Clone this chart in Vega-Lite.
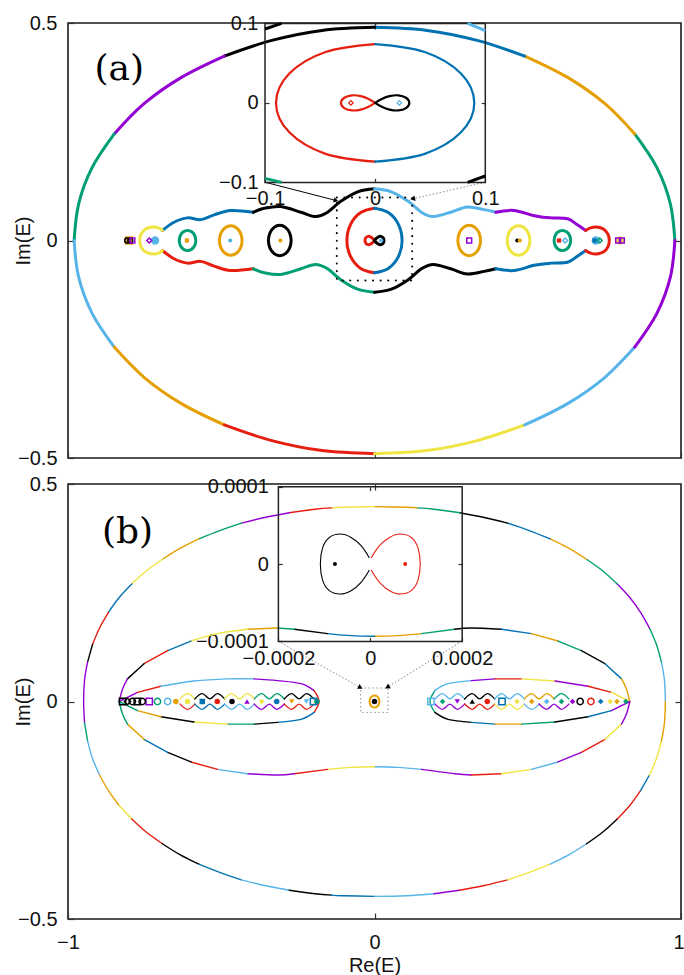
{
"$schema":"https://vega.github.io/schema/vega-lite/v6.json",
"background":"white",
"padding":{"left":12,"top":12,"right":0,"bottom":0},
"spacing":26,
"bounds":"flush",
"config":{
 "view":{"stroke":"#1a1a1a","strokeWidth":1.6},
 "axis":{"domain":false,"grid":false,"tickSize":-6,"tickColor":"#333","tickWidth":1.2,"labelFont":"Liberation Sans","labelFontSize":20,"labelColor":"#111","titleFont":"Liberation Sans","titleFontSize":20,"titleFontWeight":"normal","titleColor":"#111"},
 "axisX":{"labelPadding":19.3,"titlePadding":3},
 "axisY":{"labelPadding":17}
},
"resolve":{"scale":{"x":"independent","y":"independent"}},
"datasets":{
"aLines":[
{"s":"E1","c":"green","x":0.98,"y":0},{"s":"E1","c":"green","x":0.965,"y":0.085},{"s":"E1","c":"green","x":0.921,"y":0.168},{"s":"E1","c":"green","x":0.849,"y":0.245},
{"s":"E2","c":"orange","x":0.849,"y":0.245},{"s":"E2","c":"orange","x":0.751,"y":0.315},{"s":"E2","c":"orange","x":0.63,"y":0.375},{"s":"E2","c":"orange","x":0.49,"y":0.424},
{"s":"E3","c":"blue","x":0.49,"y":0.424},{"s":"E3","c":"blue","x":0.335,"y":0.46},{"s":"E3","c":"blue","x":0.171,"y":0.483},{"s":"E3","c":"blue","x":0,"y":0.49},
{"s":"E4","c":"black","x":0,"y":0.49},{"s":"E4","c":"black","x":-0.171,"y":0.483},{"s":"E4","c":"black","x":-0.335,"y":0.46},{"s":"E4","c":"black","x":-0.49,"y":0.424},
{"s":"E5","c":"purple","x":-0.49,"y":0.424},{"s":"E5","c":"purple","x":-0.63,"y":0.375},{"s":"E5","c":"purple","x":-0.751,"y":0.315},{"s":"E5","c":"purple","x":-0.849,"y":0.245},
{"s":"E6","c":"green","x":-0.849,"y":0.245},{"s":"E6","c":"green","x":-0.921,"y":0.168},{"s":"E6","c":"green","x":-0.965,"y":0.085},{"s":"E6","c":"green","x":-0.98,"y":0},
{"s":"E7","c":"skyblue","x":-0.98,"y":0},{"s":"E7","c":"skyblue","x":-0.965,"y":-0.085},{"s":"E7","c":"skyblue","x":-0.921,"y":-0.168},{"s":"E7","c":"skyblue","x":-0.849,"y":-0.245},
{"s":"E8","c":"orange","x":-0.849,"y":-0.245},{"s":"E8","c":"orange","x":-0.751,"y":-0.315},{"s":"E8","c":"orange","x":-0.63,"y":-0.375},{"s":"E8","c":"orange","x":-0.49,"y":-0.424},
{"s":"E9","c":"red","x":-0.49,"y":-0.424},{"s":"E9","c":"red","x":-0.335,"y":-0.46},{"s":"E9","c":"red","x":-0.171,"y":-0.483},{"s":"E9","c":"red","x":0,"y":-0.49},
{"s":"E10","c":"yellow","x":0,"y":-0.49},{"s":"E10","c":"yellow","x":0.171,"y":-0.483},{"s":"E10","c":"yellow","x":0.335,"y":-0.46},{"s":"E10","c":"yellow","x":0.49,"y":-0.424},
{"s":"E11","c":"skyblue","x":0.49,"y":-0.424},{"s":"E11","c":"skyblue","x":0.63,"y":-0.375},{"s":"E11","c":"skyblue","x":0.751,"y":-0.315},{"s":"E11","c":"skyblue","x":0.849,"y":-0.245},
{"s":"E12","c":"purple","x":0.849,"y":-0.245},{"s":"E12","c":"purple","x":0.921,"y":-0.168},{"s":"E12","c":"purple","x":0.965,"y":-0.085},{"s":"E12","c":"purple","x":0.98,"y":0},
{"s":"U1","c":"blue","x":-0.692,"y":0.023},{"s":"U1","c":"blue","x":-0.654,"y":0.042},{"s":"U1","c":"blue","x":-0.61,"y":0.052},{"s":"U1","c":"blue","x":-0.567,"y":0.048},{"s":"U1","c":"blue","x":-0.523,"y":0.059},{"s":"U1","c":"blue","x":-0.469,"y":0.069},{"s":"U1","c":"blue","x":-0.395,"y":0.065},
{"s":"U2","c":"black","x":-0.395,"y":0.065},{"s":"U2","c":"black","x":-0.36,"y":0.074},{"s":"U2","c":"black","x":-0.306,"y":0.078},{"s":"U2","c":"black","x":-0.24,"y":0.065},{"s":"U2","c":"black","x":-0.192,"y":0.055},{"s":"U2","c":"black","x":-0.153,"y":0.065},{"s":"U2","c":"black","x":-0.11,"y":0.09},{"s":"U2","c":"black","x":-0.055,"y":0.112},{"s":"U2","c":"black","x":0,"y":0.119},
{"s":"U3","c":"skyblue","x":0,"y":0.119},{"s":"U3","c":"skyblue","x":0.055,"y":0.112},{"s":"U3","c":"skyblue","x":0.11,"y":0.09},{"s":"U3","c":"skyblue","x":0.153,"y":0.065},{"s":"U3","c":"skyblue","x":0.192,"y":0.055},{"s":"U3","c":"skyblue","x":0.249,"y":0.065},{"s":"U3","c":"skyblue","x":0.303,"y":0.077},{"s":"U3","c":"skyblue","x":0.358,"y":0.071},{"s":"U3","c":"skyblue","x":0.396,"y":0.065},
{"s":"U4","c":"purple","x":0.396,"y":0.065},{"s":"U4","c":"purple","x":0.455,"y":0.069},{"s":"U4","c":"purple","x":0.521,"y":0.057},{"s":"U4","c":"purple","x":0.575,"y":0.052},{"s":"U4","c":"purple","x":0.63,"y":0.05},{"s":"U4","c":"purple","x":0.662,"y":0.036},{"s":"U4","c":"purple","x":0.689,"y":0.023},
{"s":"D1","c":"red","x":-0.692,"y":-0.023},{"s":"D1","c":"red","x":-0.654,"y":-0.042},{"s":"D1","c":"red","x":-0.61,"y":-0.052},{"s":"D1","c":"red","x":-0.567,"y":-0.048},{"s":"D1","c":"red","x":-0.523,"y":-0.059},{"s":"D1","c":"red","x":-0.469,"y":-0.069},{"s":"D1","c":"red","x":-0.395,"y":-0.065},
{"s":"D2","c":"green","x":-0.395,"y":-0.065},{"s":"D2","c":"green","x":-0.36,"y":-0.074},{"s":"D2","c":"green","x":-0.306,"y":-0.078},{"s":"D2","c":"green","x":-0.24,"y":-0.065},{"s":"D2","c":"green","x":-0.192,"y":-0.055},{"s":"D2","c":"green","x":-0.153,"y":-0.065},{"s":"D2","c":"green","x":-0.11,"y":-0.09},{"s":"D2","c":"green","x":-0.055,"y":-0.112},{"s":"D2","c":"green","x":0,"y":-0.119},
{"s":"D3","c":"black","x":0,"y":-0.119},{"s":"D3","c":"black","x":0.055,"y":-0.112},{"s":"D3","c":"black","x":0.11,"y":-0.09},{"s":"D3","c":"black","x":0.153,"y":-0.065},{"s":"D3","c":"black","x":0.192,"y":-0.055},{"s":"D3","c":"black","x":0.249,"y":-0.065},{"s":"D3","c":"black","x":0.303,"y":-0.077},{"s":"D3","c":"black","x":0.358,"y":-0.071},{"s":"D3","c":"black","x":0.396,"y":-0.065},
{"s":"D4","c":"blue","x":0.396,"y":-0.065},{"s":"D4","c":"blue","x":0.455,"y":-0.069},{"s":"D4","c":"blue","x":0.521,"y":-0.057},{"s":"D4","c":"blue","x":0.575,"y":-0.052},{"s":"D4","c":"blue","x":0.63,"y":-0.05},{"s":"D4","c":"blue","x":0.662,"y":-0.036},{"s":"D4","c":"blue","x":0.689,"y":-0.023},
{"s":"YL","c":"yellow","x":-0.692,"y":0.023},{"s":"YL","c":"yellow","x":-0.705,"y":0.029},{"s":"YL","c":"yellow","x":-0.725,"y":0.031},{"s":"YL","c":"yellow","x":-0.748,"y":0.026},{"s":"YL","c":"yellow","x":-0.762,"y":0.014},{"s":"YL","c":"yellow","x":-0.766,"y":0},{"s":"YL","c":"yellow","x":-0.762,"y":-0.014},{"s":"YL","c":"yellow","x":-0.748,"y":-0.026},{"s":"YL","c":"yellow","x":-0.725,"y":-0.031},{"s":"YL","c":"yellow","x":-0.705,"y":-0.029},{"s":"YL","c":"yellow","x":-0.692,"y":-0.023},
{"s":"RL","c":"red","x":0.689,"y":0.023},{"s":"RL","c":"red","x":0.705,"y":0.029},{"s":"RL","c":"red","x":0.725,"y":0.031},{"s":"RL","c":"red","x":0.748,"y":0.026},{"s":"RL","c":"red","x":0.762,"y":0.014},{"s":"RL","c":"red","x":0.766,"y":0},{"s":"RL","c":"red","x":0.762,"y":-0.014},{"s":"RL","c":"red","x":0.748,"y":-0.026},{"s":"RL","c":"red","x":0.725,"y":-0.031},{"s":"RL","c":"red","x":0.705,"y":-0.029},{"s":"RL","c":"red","x":0.689,"y":-0.023}
],
"aCore":[
{"s":"CL","c":"red","x":0,"y":0.074},{"s":"CL","c":"red","x":-0.045,"y":0.0641},{"s":"CL","c":"red","x":-0.0779,"y":0.037},{"s":"CL","c":"red","x":-0.09,"y":0},{"s":"CL","c":"red","x":-0.0779,"y":-0.037},{"s":"CL","c":"red","x":-0.045,"y":-0.0641},{"s":"CL","c":"red","x":0,"y":-0.074},
{"s":"CR","c":"blue","x":0,"y":-0.074},{"s":"CR","c":"blue","x":0.045,"y":-0.0641},{"s":"CR","c":"blue","x":0.0779,"y":-0.037},{"s":"CR","c":"blue","x":0.09,"y":0},{"s":"CR","c":"blue","x":0.0779,"y":0.037},{"s":"CR","c":"blue","x":0.045,"y":0.0641},{"s":"CR","c":"blue","x":0,"y":0.074},
{"s":"FL","c":"red","x":0,"y":0},{"s":"FL","c":"red","x":-0.006,"y":0.005},{"s":"FL","c":"red","x":-0.013,"y":0.0085},{"s":"FL","c":"red","x":-0.021,"y":0.0095},{"s":"FL","c":"red","x":-0.028,"y":0.0065},{"s":"FL","c":"red","x":-0.031,"y":0},{"s":"FL","c":"red","x":-0.028,"y":-0.0065},{"s":"FL","c":"red","x":-0.021,"y":-0.0095},{"s":"FL","c":"red","x":-0.013,"y":-0.0085},{"s":"FL","c":"red","x":-0.006,"y":-0.005},{"s":"FL","c":"red","x":0,"y":0},
{"s":"FR","c":"black","x":0,"y":0},{"s":"FR","c":"black","x":0.006,"y":0.005},{"s":"FR","c":"black","x":0.013,"y":0.0085},{"s":"FR","c":"black","x":0.021,"y":0.0095},{"s":"FR","c":"black","x":0.028,"y":0.0065},{"s":"FR","c":"black","x":0.031,"y":0},{"s":"FR","c":"black","x":0.028,"y":-0.0065},{"s":"FR","c":"black","x":0.021,"y":-0.0095},{"s":"FR","c":"black","x":0.013,"y":-0.0085},{"s":"FR","c":"black","x":0.006,"y":-0.005},{"s":"FR","c":"black","x":0,"y":0}
],
"aLoops":[
{"s":"L1","c":"green","x":-0.583,"y":0},{"s":"L1","c":"green","x":-0.5866,"y":0.0115},{"s":"L1","c":"green","x":-0.5965,"y":0.0199},{"s":"L1","c":"green","x":-0.61,"y":0.023},{"s":"L1","c":"green","x":-0.6235,"y":0.0199},{"s":"L1","c":"green","x":-0.6334,"y":0.0115},{"s":"L1","c":"green","x":-0.637,"y":0},{"s":"L1","c":"green","x":-0.6334,"y":-0.0115},{"s":"L1","c":"green","x":-0.6235,"y":-0.0199},{"s":"L1","c":"green","x":-0.61,"y":-0.023},{"s":"L1","c":"green","x":-0.5965,"y":-0.0199},{"s":"L1","c":"green","x":-0.5866,"y":-0.0115},
{"s":"L2","c":"orange","x":-0.432,"y":0},{"s":"L2","c":"orange","x":-0.437,"y":0.017},{"s":"L2","c":"orange","x":-0.4505,"y":0.0294},{"s":"L2","c":"orange","x":-0.469,"y":0.034},{"s":"L2","c":"orange","x":-0.4875,"y":0.0294},{"s":"L2","c":"orange","x":-0.501,"y":0.017},{"s":"L2","c":"orange","x":-0.506,"y":0},{"s":"L2","c":"orange","x":-0.501,"y":-0.017},{"s":"L2","c":"orange","x":-0.4875,"y":-0.0294},{"s":"L2","c":"orange","x":-0.469,"y":-0.034},{"s":"L2","c":"orange","x":-0.4505,"y":-0.0294},{"s":"L2","c":"orange","x":-0.437,"y":-0.017},
{"s":"L3","c":"black","x":-0.272,"y":0},{"s":"L3","c":"black","x":-0.277,"y":0.0175},{"s":"L3","c":"black","x":-0.2905,"y":0.0303},{"s":"L3","c":"black","x":-0.309,"y":0.035},{"s":"L3","c":"black","x":-0.3275,"y":0.0303},{"s":"L3","c":"black","x":-0.341,"y":0.0175},{"s":"L3","c":"black","x":-0.346,"y":0},{"s":"L3","c":"black","x":-0.341,"y":-0.0175},{"s":"L3","c":"black","x":-0.3275,"y":-0.0303},{"s":"L3","c":"black","x":-0.309,"y":-0.035},{"s":"L3","c":"black","x":-0.2905,"y":-0.0303},{"s":"L3","c":"black","x":-0.277,"y":-0.0175},
{"s":"R3","c":"orange","x":0.346,"y":0},{"s":"R3","c":"orange","x":0.341,"y":0.0175},{"s":"R3","c":"orange","x":0.3275,"y":0.0303},{"s":"R3","c":"orange","x":0.309,"y":0.035},{"s":"R3","c":"orange","x":0.2905,"y":0.0303},{"s":"R3","c":"orange","x":0.277,"y":0.0175},{"s":"R3","c":"orange","x":0.272,"y":0},{"s":"R3","c":"orange","x":0.277,"y":-0.0175},{"s":"R3","c":"orange","x":0.2905,"y":-0.0303},{"s":"R3","c":"orange","x":0.309,"y":-0.035},{"s":"R3","c":"orange","x":0.3275,"y":-0.0303},{"s":"R3","c":"orange","x":0.341,"y":-0.0175},
{"s":"R2","c":"yellow","x":0.507,"y":0},{"s":"R2","c":"yellow","x":0.502,"y":0.017},{"s":"R2","c":"yellow","x":0.4885,"y":0.0294},{"s":"R2","c":"yellow","x":0.47,"y":0.034},{"s":"R2","c":"yellow","x":0.4515,"y":0.0294},{"s":"R2","c":"yellow","x":0.438,"y":0.017},{"s":"R2","c":"yellow","x":0.433,"y":0},{"s":"R2","c":"yellow","x":0.438,"y":-0.017},{"s":"R2","c":"yellow","x":0.4515,"y":-0.0294},{"s":"R2","c":"yellow","x":0.47,"y":-0.034},{"s":"R2","c":"yellow","x":0.4885,"y":-0.0294},{"s":"R2","c":"yellow","x":0.502,"y":-0.017},
{"s":"R1","c":"green","x":0.64,"y":0},{"s":"R1","c":"green","x":0.6364,"y":0.0115},{"s":"R1","c":"green","x":0.6265,"y":0.0199},{"s":"R1","c":"green","x":0.613,"y":0.023},{"s":"R1","c":"green","x":0.5995,"y":0.0199},{"s":"R1","c":"green","x":0.5896,"y":0.0115},{"s":"R1","c":"green","x":0.586,"y":0},{"s":"R1","c":"green","x":0.5896,"y":-0.0115},{"s":"R1","c":"green","x":0.5995,"y":-0.0199},{"s":"R1","c":"green","x":0.613,"y":-0.023},{"s":"R1","c":"green","x":0.6265,"y":-0.0199},{"s":"R1","c":"green","x":0.6364,"y":-0.0115}
],
"aCorner":[
{"s":"K1","c":"black","x":-0.1,"y":0.093},{"s":"K1","c":"black","x":-0.085,"y":0.1},
{"s":"K2","c":"skyblue","x":0.084,"y":0.1},{"s":"K2","c":"skyblue","x":0.1,"y":0.091},
{"s":"K3","c":"green","x":-0.1,"y":-0.095},{"s":"K3","c":"green","x":-0.085,"y":-0.1},
{"s":"K4","c":"black","x":0.084,"y":-0.1},{"s":"K4","c":"black","x":0.1,"y":-0.092}
],
"aBig":[{"x":-0.801,"y":0,"c":"orange","m":"square"},{"x":-0.716,"y":0,"c":"skyblue","m":"circle"},{"x":0.722,"y":0,"c":"skyblue","m":"circle"},{"x":0.801,"y":0,"c":"yellow","m":"circle"}],
"aSmall":[{"x":-0.612,"y":0,"c":"orange","m":"square"},{"x":-0.471,"y":0,"c":"skyblue","m":"circle"},{"x":-0.307,"y":0,"c":"orange","m":"circle"},{"x":0.466,"y":0,"c":"black","m":"circle"},{"x":0.474,"y":0,"c":"orange","m":"circle"},{"x":0.602,"y":0,"c":"red","m":"square"},{"x":0.718,"y":0,"c":"blue","m":"square"},{"x":0.022,"y":0,"c":"skyblue","m":"circle"}],
"aOpen":[{"x":-0.807,"y":0,"c":"black","m":"circle"},{"x":-0.797,"y":0,"c":"black","m":"circle"},{"x":-0.79,"y":0,"c":"purple","m":"square"},{"x":-0.735,"y":0,"c":"purple","m":"diamond"},{"x":0.309,"y":0,"c":"purple","m":"square"},{"x":0.622,"y":0,"c":"skyblue","m":"diamond"},{"x":0.735,"y":0,"c":"green","m":"diamond"},{"x":0.795,"y":0,"c":"purple","m":"square"},{"x":0.807,"y":0,"c":"purple","m":"square"}],
"aInsetPts":[{"x":-0.022,"y":0,"c":"red","m":"diamond"},{"x":0.022,"y":0,"c":"skyblue","m":"diamond"}],
"bLines":[
{"s":"S1","c":"skyblue","x":0.949,"y":0},{"s":"S1","c":"skyblue","x":0.946,"y":0.049},{"s":"S1","c":"skyblue","x":0.936,"y":0.091},
{"s":"S2","c":"green","x":0.936,"y":0.091},{"s":"S2","c":"green","x":0.92,"y":0.131},{"s":"S2","c":"green","x":0.897,"y":0.169},
{"s":"S3","c":"purple","x":0.897,"y":0.169},{"s":"S3","c":"purple","x":0.868,"y":0.205},{"s":"S3","c":"purple","x":0.833,"y":0.239},{"s":"S3","c":"purple","x":0.792,"y":0.27},
{"s":"S4","c":"green","x":0.792,"y":0.27},{"s":"S4","c":"green","x":0.745,"y":0.3},{"s":"S4","c":"green","x":0.692,"y":0.327},
{"s":"S5","c":"orange","x":0.692,"y":0.327},{"s":"S5","c":"orange","x":0.635,"y":0.352},{"s":"S5","c":"orange","x":0.573,"y":0.374},
{"s":"S6","c":"blue","x":0.573,"y":0.374},{"s":"S6","c":"blue","x":0.505,"y":0.393},{"s":"S6","c":"blue","x":0.434,"y":0.41},
{"s":"S7","c":"black","x":0.434,"y":0.41},{"s":"S7","c":"black","x":0.358,"y":0.423},{"s":"S7","c":"black","x":0.278,"y":0.434},
{"s":"S8","c":"green","x":0.278,"y":0.434},{"s":"S8","c":"green","x":0.194,"y":0.442},{"s":"S8","c":"green","x":0.14,"y":0.445},
{"s":"S9","c":"orange","x":0.14,"y":0.445},{"s":"S9","c":"orange","x":0.103,"y":0.4465},{"s":"S9","c":"orange","x":0,"y":0.448},
{"s":"S10","c":"yellow","x":0,"y":0.448},{"s":"S10","c":"yellow","x":-0.103,"y":0.4465},{"s":"S10","c":"yellow","x":-0.14,"y":0.445},
{"s":"S11","c":"red","x":-0.14,"y":0.445},{"s":"S11","c":"red","x":-0.194,"y":0.442},{"s":"S11","c":"red","x":-0.278,"y":0.434},
{"s":"S12","c":"purple","x":-0.278,"y":0.434},{"s":"S12","c":"purple","x":-0.358,"y":0.423},{"s":"S12","c":"purple","x":-0.434,"y":0.41},
{"s":"S13","c":"green","x":-0.434,"y":0.41},{"s":"S13","c":"green","x":-0.505,"y":0.393},{"s":"S13","c":"green","x":-0.573,"y":0.374},
{"s":"S14","c":"orange","x":-0.573,"y":0.374},{"s":"S14","c":"orange","x":-0.635,"y":0.352},{"s":"S14","c":"orange","x":-0.692,"y":0.327},
{"s":"S15","c":"yellow","x":-0.692,"y":0.327},{"s":"S15","c":"yellow","x":-0.745,"y":0.3},{"s":"S15","c":"yellow","x":-0.792,"y":0.27},
{"s":"S16","c":"blue","x":-0.792,"y":0.27},{"s":"S16","c":"blue","x":-0.833,"y":0.239},{"s":"S16","c":"blue","x":-0.868,"y":0.205},
{"s":"S17","c":"red","x":-0.868,"y":0.205},{"s":"S17","c":"red","x":-0.897,"y":0.169},{"s":"S17","c":"red","x":-0.92,"y":0.131},
{"s":"S18","c":"black","x":-0.92,"y":0.131},{"s":"S18","c":"black","x":-0.936,"y":0.091},
{"s":"S19","c":"purple","x":-0.936,"y":0.091},{"s":"S19","c":"purple","x":-0.946,"y":0.049},{"s":"S19","c":"purple","x":-0.949,"y":0},{"s":"S19","c":"purple","x":-0.946,"y":-0.049},
{"s":"S20","c":"green","x":-0.946,"y":-0.049},{"s":"S20","c":"green","x":-0.936,"y":-0.091},
{"s":"S21","c":"skyblue","x":-0.936,"y":-0.091},{"s":"S21","c":"skyblue","x":-0.92,"y":-0.131},{"s":"S21","c":"skyblue","x":-0.897,"y":-0.169},
{"s":"S22","c":"orange","x":-0.897,"y":-0.169},{"s":"S22","c":"orange","x":-0.868,"y":-0.205},{"s":"S22","c":"orange","x":-0.833,"y":-0.239},
{"s":"S23","c":"yellow","x":-0.833,"y":-0.239},{"s":"S23","c":"yellow","x":-0.792,"y":-0.27},
{"s":"S24","c":"red","x":-0.792,"y":-0.27},{"s":"S24","c":"red","x":-0.745,"y":-0.3},{"s":"S24","c":"red","x":-0.692,"y":-0.327},
{"s":"S25","c":"black","x":-0.692,"y":-0.327},{"s":"S25","c":"black","x":-0.635,"y":-0.352},{"s":"S25","c":"black","x":-0.573,"y":-0.374},
{"s":"S26","c":"blue","x":-0.573,"y":-0.374},{"s":"S26","c":"blue","x":-0.505,"y":-0.393},{"s":"S26","c":"blue","x":-0.434,"y":-0.41},
{"s":"S27","c":"skyblue","x":-0.434,"y":-0.41},{"s":"S27","c":"skyblue","x":-0.358,"y":-0.423},{"s":"S27","c":"skyblue","x":-0.278,"y":-0.434},
{"s":"S28","c":"black","x":-0.278,"y":-0.434},{"s":"S28","c":"black","x":-0.194,"y":-0.442},{"s":"S28","c":"black","x":-0.14,"y":-0.445},
{"s":"S29","c":"blue","x":-0.14,"y":-0.445},{"s":"S29","c":"blue","x":-0.103,"y":-0.4465},{"s":"S29","c":"blue","x":0,"y":-0.448},
{"s":"S30","c":"skyblue","x":0,"y":-0.448},{"s":"S30","c":"skyblue","x":0.103,"y":-0.4465},{"s":"S30","c":"skyblue","x":0.194,"y":-0.442},
{"s":"S31","c":"purple","x":0.194,"y":-0.442},{"s":"S31","c":"purple","x":0.278,"y":-0.434},
{"s":"S32","c":"red","x":0.278,"y":-0.434},{"s":"S32","c":"red","x":0.358,"y":-0.423},{"s":"S32","c":"red","x":0.434,"y":-0.41},
{"s":"S33","c":"yellow","x":0.434,"y":-0.41},{"s":"S33","c":"yellow","x":0.505,"y":-0.393},{"s":"S33","c":"yellow","x":0.573,"y":-0.374},
{"s":"S34","c":"skyblue","x":0.573,"y":-0.374},{"s":"S34","c":"skyblue","x":0.635,"y":-0.352},{"s":"S34","c":"skyblue","x":0.692,"y":-0.327},
{"s":"S35","c":"black","x":0.692,"y":-0.327},{"s":"S35","c":"black","x":0.745,"y":-0.3},{"s":"S35","c":"black","x":0.792,"y":-0.27},
{"s":"S36","c":"red","x":0.792,"y":-0.27},{"s":"S36","c":"red","x":0.833,"y":-0.239},{"s":"S36","c":"red","x":0.868,"y":-0.205},
{"s":"S37","c":"blue","x":0.868,"y":-0.205},{"s":"S37","c":"blue","x":0.897,"y":-0.169},
{"s":"S38","c":"yellow","x":0.897,"y":-0.169},{"s":"S38","c":"yellow","x":0.92,"y":-0.131},{"s":"S38","c":"yellow","x":0.936,"y":-0.091},
{"s":"S39","c":"orange","x":0.936,"y":-0.091},{"s":"S39","c":"orange","x":0.946,"y":-0.049},{"s":"S39","c":"orange","x":0.949,"y":0},
{"s":"N1","c":"orange","x":0,"y":0.15},{"s":"N1","c":"orange","x":0.075,"y":0.1515},{"s":"N1","c":"orange","x":0.153,"y":0.156},
{"s":"N2","c":"green","x":0.153,"y":0.156},{"s":"N2","c":"green","x":0.262,"y":0.166},
{"s":"N3","c":"black","x":0.262,"y":0.166},{"s":"N3","c":"black","x":0.316,"y":0.169},{"s":"N3","c":"black","x":0.414,"y":0.166},
{"s":"N4","c":"blue","x":0.414,"y":0.166},{"s":"N4","c":"blue","x":0.512,"y":0.156},
{"s":"N5","c":"orange","x":0.512,"y":0.156},{"s":"N5","c":"orange","x":0.599,"y":0.139},
{"s":"N6","c":"green","x":0.599,"y":0.139},{"s":"N6","c":"green","x":0.675,"y":0.117},
{"s":"N7","c":"black","x":0.675,"y":0.117},{"s":"N7","c":"black","x":0.752,"y":0.087},
{"s":"N8","c":"blue","x":0.752,"y":0.087},{"s":"N8","c":"blue","x":0.806,"y":0.052},
{"s":"N9","c":"orange","x":0.806,"y":0.052},{"s":"N9","c":"orange","x":0.822,"y":0.029},{"s":"N9","c":"orange","x":0.833,"y":0},
{"s":"N10","c":"skyblue","x":0,"y":-0.15},{"s":"N10","c":"skyblue","x":0.075,"y":-0.1515},{"s":"N10","c":"skyblue","x":0.153,"y":-0.156},
{"s":"N11","c":"purple","x":0.153,"y":-0.156},{"s":"N11","c":"purple","x":0.262,"y":-0.166},{"s":"N11","c":"purple","x":0.316,"y":-0.169},
{"s":"N12","c":"red","x":0.316,"y":-0.169},{"s":"N12","c":"red","x":0.414,"y":-0.166},
{"s":"N13","c":"yellow","x":0.414,"y":-0.166},{"s":"N13","c":"yellow","x":0.512,"y":-0.156},
{"s":"N14","c":"skyblue","x":0.512,"y":-0.156},{"s":"N14","c":"skyblue","x":0.599,"y":-0.139},
{"s":"N15","c":"purple","x":0.599,"y":-0.139},{"s":"N15","c":"purple","x":0.675,"y":-0.117},
{"s":"N16","c":"red","x":0.675,"y":-0.117},{"s":"N16","c":"red","x":0.752,"y":-0.087},
{"s":"N17","c":"yellow","x":0.752,"y":-0.087},{"s":"N17","c":"yellow","x":0.806,"y":-0.052},
{"s":"N18","c":"purple","x":0.806,"y":-0.052},{"s":"N18","c":"purple","x":0.822,"y":-0.029},{"s":"N18","c":"purple","x":0.833,"y":0},
{"s":"N19","c":"blue","x":0,"y":0.15},{"s":"N19","c":"blue","x":-0.075,"y":0.1515},{"s":"N19","c":"blue","x":-0.153,"y":0.156},
{"s":"N20","c":"black","x":-0.153,"y":0.156},{"s":"N20","c":"black","x":-0.262,"y":0.166},
{"s":"N21","c":"green","x":-0.262,"y":0.166},{"s":"N21","c":"green","x":-0.316,"y":0.169},
{"s":"N22","c":"orange","x":-0.316,"y":0.169},{"s":"N22","c":"orange","x":-0.414,"y":0.166},
{"s":"N23","c":"yellow","x":-0.414,"y":0.166},{"s":"N23","c":"yellow","x":-0.512,"y":0.156},{"s":"N23","c":"yellow","x":-0.599,"y":0.139},
{"s":"N24","c":"blue","x":-0.599,"y":0.139},{"s":"N24","c":"blue","x":-0.675,"y":0.117},
{"s":"N25","c":"red","x":-0.675,"y":0.117},{"s":"N25","c":"red","x":-0.752,"y":0.087},
{"s":"N26","c":"black","x":-0.752,"y":0.087},{"s":"N26","c":"black","x":-0.806,"y":0.052},
{"s":"N27","c":"purple","x":-0.806,"y":0.052},{"s":"N27","c":"purple","x":-0.822,"y":0.029},{"s":"N27","c":"purple","x":-0.833,"y":0},
{"s":"N28","c":"yellow","x":0,"y":-0.15},{"s":"N28","c":"yellow","x":-0.075,"y":-0.1515},{"s":"N28","c":"yellow","x":-0.153,"y":-0.156},
{"s":"N29","c":"red","x":-0.153,"y":-0.156},{"s":"N29","c":"red","x":-0.262,"y":-0.166},
{"s":"N30","c":"purple","x":-0.262,"y":-0.166},{"s":"N30","c":"purple","x":-0.316,"y":-0.169},{"s":"N30","c":"purple","x":-0.414,"y":-0.166},
{"s":"N31","c":"skyblue","x":-0.414,"y":-0.166},{"s":"N31","c":"skyblue","x":-0.512,"y":-0.156},
{"s":"N32","c":"red","x":-0.512,"y":-0.156},{"s":"N32","c":"red","x":-0.599,"y":-0.139},
{"s":"N33","c":"black","x":-0.599,"y":-0.139},{"s":"N33","c":"black","x":-0.675,"y":-0.117},
{"s":"N34","c":"blue","x":-0.675,"y":-0.117},{"s":"N34","c":"blue","x":-0.752,"y":-0.087},
{"s":"N35","c":"orange","x":-0.752,"y":-0.087},{"s":"N35","c":"orange","x":-0.806,"y":-0.052},
{"s":"N36","c":"green","x":-0.806,"y":-0.052},{"s":"N36","c":"green","x":-0.822,"y":-0.029},{"s":"N36","c":"green","x":-0.833,"y":0},
{"s":"LA1","c":"purple","x":-0.833,"y":0},{"s":"LA1","c":"purple","x":-0.773,"y":0.021},
{"s":"LA2","c":"red","x":-0.773,"y":0.021},{"s":"LA2","c":"red","x":-0.697,"y":0.035},
{"s":"LA3","c":"skyblue","x":-0.697,"y":0.035},{"s":"LA3","c":"skyblue","x":-0.589,"y":0.047},{"s":"LA3","c":"skyblue","x":-0.48,"y":0.052},{"s":"LA3","c":"skyblue","x":-0.393,"y":0.052},
{"s":"LA4","c":"purple","x":-0.393,"y":0.052},{"s":"LA4","c":"purple","x":-0.316,"y":0.048},{"s":"LA4","c":"purple","x":-0.24,"y":0.041},{"s":"LA4","c":"purple","x":-0.197,"y":0.025},
{"s":"LA5","c":"red","x":-0.197,"y":0.025},{"s":"LA5","c":"red","x":-0.181,"y":0},{"s":"LA5","c":"red","x":-0.197,"y":-0.025},
{"s":"LB1","c":"blue","x":-0.197,"y":-0.025},{"s":"LB1","c":"blue","x":-0.24,"y":-0.041},{"s":"LB1","c":"blue","x":-0.316,"y":-0.048},
{"s":"LB2","c":"black","x":-0.316,"y":-0.048},{"s":"LB2","c":"black","x":-0.393,"y":-0.052},
{"s":"LB3","c":"green","x":-0.393,"y":-0.052},{"s":"LB3","c":"green","x":-0.48,"y":-0.052},
{"s":"LB4","c":"yellow","x":-0.48,"y":-0.052},{"s":"LB4","c":"yellow","x":-0.589,"y":-0.047},
{"s":"LB5","c":"black","x":-0.589,"y":-0.047},{"s":"LB5","c":"black","x":-0.697,"y":-0.035},
{"s":"LB6","c":"orange","x":-0.697,"y":-0.035},{"s":"LB6","c":"orange","x":-0.773,"y":-0.021},
{"s":"LB7","c":"green","x":-0.773,"y":-0.021},{"s":"LB7","c":"green","x":-0.833,"y":0},
{"s":"RA1","c":"green","x":0.197,"y":-0.025},{"s":"RA1","c":"green","x":0.181,"y":0},{"s":"RA1","c":"green","x":0.197,"y":0.025},
{"s":"RA2","c":"skyblue","x":0.197,"y":0.025},{"s":"RA2","c":"skyblue","x":0.24,"y":0.041},{"s":"RA2","c":"skyblue","x":0.316,"y":0.048},
{"s":"RA3","c":"purple","x":0.316,"y":0.048},{"s":"RA3","c":"purple","x":0.393,"y":0.052},
{"s":"RA4","c":"red","x":0.393,"y":0.052},{"s":"RA4","c":"red","x":0.48,"y":0.052},
{"s":"RA5","c":"yellow","x":0.48,"y":0.052},{"s":"RA5","c":"yellow","x":0.589,"y":0.047},
{"s":"RA6","c":"purple","x":0.589,"y":0.047},{"s":"RA6","c":"purple","x":0.697,"y":0.035},
{"s":"RA7","c":"red","x":0.697,"y":0.035},{"s":"RA7","c":"red","x":0.773,"y":0.021},
{"s":"RA8","c":"yellow","x":0.773,"y":0.021},{"s":"RA8","c":"yellow","x":0.833,"y":0},
{"s":"RB1","c":"black","x":0.197,"y":-0.025},{"s":"RB1","c":"black","x":0.24,"y":-0.041},{"s":"RB1","c":"black","x":0.316,"y":-0.048},
{"s":"RB2","c":"blue","x":0.316,"y":-0.048},{"s":"RB2","c":"blue","x":0.393,"y":-0.052},
{"s":"RB3","c":"orange","x":0.393,"y":-0.052},{"s":"RB3","c":"orange","x":0.48,"y":-0.052},
{"s":"RB4","c":"green","x":0.48,"y":-0.052},{"s":"RB4","c":"green","x":0.589,"y":-0.047},
{"s":"RB5","c":"black","x":0.589,"y":-0.047},{"s":"RB5","c":"black","x":0.697,"y":-0.035},
{"s":"RB6","c":"blue","x":0.697,"y":-0.035},{"s":"RB6","c":"blue","x":0.773,"y":-0.021},
{"s":"RB7","c":"purple","x":0.773,"y":-0.021},{"s":"RB7","c":"purple","x":0.833,"y":0},
{"s":"LT1","c":"yellow","x":-0.634,"y":0.006},{"s":"LT1","c":"yellow","x":-0.61,"y":0.018},{"s":"LT1","c":"yellow","x":-0.586,"y":0.006},
{"s":"LT2","c":"black","x":-0.586,"y":0.006},{"s":"LT2","c":"black","x":-0.562,"y":0.018},{"s":"LT2","c":"black","x":-0.537,"y":0.006},{"s":"LT2","c":"black","x":-0.513,"y":0.018},{"s":"LT2","c":"black","x":-0.489,"y":0.006},
{"s":"LT3","c":"yellow","x":-0.489,"y":0.006},{"s":"LT3","c":"yellow","x":-0.465,"y":0.018},{"s":"LT3","c":"yellow","x":-0.44,"y":0.006},{"s":"LT3","c":"yellow","x":-0.416,"y":0.018},{"s":"LT3","c":"yellow","x":-0.392,"y":0.006},
{"s":"LT4","c":"green","x":-0.392,"y":0.006},{"s":"LT4","c":"green","x":-0.368,"y":0.018},{"s":"LT4","c":"green","x":-0.343,"y":0.006},{"s":"LT4","c":"green","x":-0.319,"y":0.018},{"s":"LT4","c":"green","x":-0.294,"y":0.006},
{"s":"LT5","c":"black","x":-0.294,"y":0.006},{"s":"LT5","c":"black","x":-0.27,"y":0.018},{"s":"LT5","c":"black","x":-0.246,"y":0.006},{"s":"LT5","c":"black","x":-0.222,"y":0.018},{"s":"LT5","c":"black","x":-0.198,"y":0.006},
{"s":"LD1","c":"red","x":-0.634,"y":-0.006},{"s":"LD1","c":"red","x":-0.61,"y":-0.018},{"s":"LD1","c":"red","x":-0.586,"y":-0.006},
{"s":"LD2","c":"blue","x":-0.586,"y":-0.006},{"s":"LD2","c":"blue","x":-0.562,"y":-0.018},{"s":"LD2","c":"blue","x":-0.537,"y":-0.006},{"s":"LD2","c":"blue","x":-0.513,"y":-0.018},{"s":"LD2","c":"blue","x":-0.489,"y":-0.006},
{"s":"LD3","c":"skyblue","x":-0.489,"y":-0.006},{"s":"LD3","c":"skyblue","x":-0.465,"y":-0.018},{"s":"LD3","c":"skyblue","x":-0.44,"y":-0.006},{"s":"LD3","c":"skyblue","x":-0.416,"y":-0.018},{"s":"LD3","c":"skyblue","x":-0.392,"y":-0.006},
{"s":"LD4","c":"purple","x":-0.392,"y":-0.006},{"s":"LD4","c":"purple","x":-0.368,"y":-0.018},{"s":"LD4","c":"purple","x":-0.343,"y":-0.006},{"s":"LD4","c":"purple","x":-0.319,"y":-0.018},{"s":"LD4","c":"purple","x":-0.294,"y":-0.006},
{"s":"LD5","c":"red","x":-0.294,"y":-0.006},{"s":"LD5","c":"red","x":-0.27,"y":-0.018},{"s":"LD5","c":"red","x":-0.246,"y":-0.006},{"s":"LD5","c":"red","x":-0.222,"y":-0.018},{"s":"LD5","c":"red","x":-0.198,"y":-0.006},
{"s":"RT1","c":"skyblue","x":0.198,"y":0.006},{"s":"RT1","c":"skyblue","x":0.222,"y":0.018},{"s":"RT1","c":"skyblue","x":0.246,"y":0.006},{"s":"RT1","c":"skyblue","x":0.27,"y":0.018},{"s":"RT1","c":"skyblue","x":0.294,"y":0.006},
{"s":"RT2","c":"black","x":0.294,"y":0.006},{"s":"RT2","c":"black","x":0.319,"y":0.018},{"s":"RT2","c":"black","x":0.343,"y":0.006},{"s":"RT2","c":"black","x":0.368,"y":0.018},{"s":"RT2","c":"black","x":0.392,"y":0.006},
{"s":"RT3","c":"skyblue","x":0.392,"y":0.006},{"s":"RT3","c":"skyblue","x":0.416,"y":0.018},{"s":"RT3","c":"skyblue","x":0.44,"y":0.006},{"s":"RT3","c":"skyblue","x":0.465,"y":0.018},{"s":"RT3","c":"skyblue","x":0.489,"y":0.006},
{"s":"RT4","c":"orange","x":0.489,"y":0.006},{"s":"RT4","c":"orange","x":0.513,"y":0.018},{"s":"RT4","c":"orange","x":0.537,"y":0.006},{"s":"RT4","c":"orange","x":0.562,"y":0.018},{"s":"RT4","c":"orange","x":0.586,"y":0.006},
{"s":"RT5","c":"green","x":0.586,"y":0.006},{"s":"RT5","c":"green","x":0.61,"y":0.018},{"s":"RT5","c":"green","x":0.634,"y":0.006},
{"s":"RD1","c":"purple","x":0.198,"y":-0.006},{"s":"RD1","c":"purple","x":0.222,"y":-0.018},{"s":"RD1","c":"purple","x":0.246,"y":-0.006},{"s":"RD1","c":"purple","x":0.27,"y":-0.018},{"s":"RD1","c":"purple","x":0.294,"y":-0.006},
{"s":"RD2","c":"red","x":0.294,"y":-0.006},{"s":"RD2","c":"red","x":0.319,"y":-0.018},{"s":"RD2","c":"red","x":0.343,"y":-0.006},{"s":"RD2","c":"red","x":0.368,"y":-0.018},{"s":"RD2","c":"red","x":0.392,"y":-0.006},
{"s":"RD3","c":"yellow","x":0.392,"y":-0.006},{"s":"RD3","c":"yellow","x":0.416,"y":-0.018},{"s":"RD3","c":"yellow","x":0.44,"y":-0.006},{"s":"RD3","c":"yellow","x":0.465,"y":-0.018},{"s":"RD3","c":"yellow","x":0.489,"y":-0.006},
{"s":"RD4","c":"skyblue","x":0.489,"y":-0.006},{"s":"RD4","c":"skyblue","x":0.513,"y":-0.018},{"s":"RD4","c":"skyblue","x":0.537,"y":-0.006},
{"s":"RD5","c":"purple","x":0.537,"y":-0.006},{"s":"RD5","c":"purple","x":0.562,"y":-0.018},{"s":"RD5","c":"purple","x":0.586,"y":-0.006},{"s":"RD5","c":"purple","x":0.61,"y":-0.018},{"s":"RD5","c":"purple","x":0.634,"y":-0.006}
],
"bLoops":[
{"s":"O1","c":"orange","x":0.016,"y":0},{"s":"O1","c":"orange","x":0.0139,"y":0.007},{"s":"O1","c":"orange","x":0.008,"y":0.0121},{"s":"O1","c":"orange","x":0,"y":0.014},{"s":"O1","c":"orange","x":-0.008,"y":0.0121},{"s":"O1","c":"orange","x":-0.0139,"y":0.007},{"s":"O1","c":"orange","x":-0.016,"y":0},{"s":"O1","c":"orange","x":-0.0139,"y":-0.007},{"s":"O1","c":"orange","x":-0.008,"y":-0.0121},{"s":"O1","c":"orange","x":0,"y":-0.014},{"s":"O1","c":"orange","x":0.008,"y":-0.0121},{"s":"O1","c":"orange","x":0.0139,"y":-0.007}
],
"bFill":[
{"x":-0.562,"y":0,"c":"blue","m":"square"},{"x":-0.513,"y":0,"c":"red","m":"circle"},{"x":-0.465,"y":0,"c":"black","m":"circle"},{"x":-0.416,"y":0,"c":"purple","m":"triangle-up"},{"x":-0.368,"y":0,"c":"yellow","m":"diamond"},{"x":-0.319,"y":0,"c":"blue","m":"circle"},{"x":-0.27,"y":0,"c":"orange","m":"triangle-down"},{"x":-0.222,"y":0,"c":"skyblue","m":"triangle-down"},{"x":-0.188,"y":0,"c":"green","m":"circle"},{"x":-0.61,"y":0,"c":"yellow","m":"circle"},{"x":-0.648,"y":0,"c":"orange","m":"circle"},
{"x":0.222,"y":0,"c":"green","m":"diamond"},{"x":0.27,"y":0,"c":"purple","m":"triangle-down"},{"x":0.319,"y":0,"c":"black","m":"triangle-up"},{"x":0.368,"y":0,"c":"red","m":"circle"},{"x":0.465,"y":0,"c":"yellow","m":"diamond"},{"x":0.513,"y":0,"c":"orange","m":"diamond"},{"x":0.562,"y":0,"c":"skyblue","m":"diamond"},{"x":0.61,"y":0,"c":"green","m":"diamond"},{"x":0.646,"y":0,"c":"purple","m":"diamond"},{"x":0.738,"y":0,"c":"blue","m":"diamond"},{"x":0.769,"y":0,"c":"yellow","m":"diamond"},{"x":0.791,"y":0,"c":"orange","m":"diamond"},{"x":0.82,"y":0,"c":"green","m":"diamond"},{"x":0,"y":0,"c":"black","m":"circle"}
],
"bOpen":[
{"x":-0.199,"y":0,"c":"blue","m":"square"},{"x":-0.675,"y":0,"c":"skyblue","m":"circle"},{"x":-0.708,"y":0,"c":"green","m":"circle"},{"x":-0.735,"y":0,"c":"purple","m":"square"},{"x":-0.758,"y":0,"c":"black","m":"circle"},{"x":-0.774,"y":0,"c":"black","m":"square"},{"x":-0.79,"y":0,"c":"black","m":"circle"},{"x":-0.806,"y":0,"c":"black","m":"diamond"},{"x":-0.822,"y":0,"c":"black","m":"square"},
{"x":0.184,"y":0,"c":"skyblue","m":"square"},{"x":0.416,"y":0,"c":"blue","m":"square"},{"x":0.671,"y":0,"c":"black","m":"circle"},{"x":0.706,"y":0,"c":"red","m":"circle"}
],
"bCore":[
{"s":"BL","c":"black","x":-0.000002,"y":0.0000078},{"s":"BL","c":"black","x":-0.00002,"y":0.0000237},{"s":"BL","c":"black","x":-0.0000418,"y":0.0000344},{"s":"BL","c":"black","x":-0.0000651,"y":0.0000388},{"s":"BL","c":"black","x":-0.0000891,"y":0.0000344},{"s":"BL","c":"black","x":-0.0001035,"y":0.0000215},{"s":"BL","c":"black","x":-0.0001087,"y":0},{"s":"BL","c":"black","x":-0.0001035,"y":-0.0000215},{"s":"BL","c":"black","x":-0.0000891,"y":-0.0000344},{"s":"BL","c":"black","x":-0.0000651,"y":-0.0000388},{"s":"BL","c":"black","x":-0.0000418,"y":-0.0000344},{"s":"BL","c":"black","x":-0.00002,"y":-0.0000237},{"s":"BL","c":"black","x":-0.000002,"y":-0.0000078},
{"s":"BR","c":"red","x":0.000002,"y":0.0000078},{"s":"BR","c":"red","x":0.00002,"y":0.0000237},{"s":"BR","c":"red","x":0.0000418,"y":0.0000344},{"s":"BR","c":"red","x":0.0000651,"y":0.0000388},{"s":"BR","c":"red","x":0.0000891,"y":0.0000344},{"s":"BR","c":"red","x":0.0001035,"y":0.0000215},{"s":"BR","c":"red","x":0.0001087,"y":0},{"s":"BR","c":"red","x":0.0001035,"y":-0.0000215},{"s":"BR","c":"red","x":0.0000891,"y":-0.0000344},{"s":"BR","c":"red","x":0.0000651,"y":-0.0000388},{"s":"BR","c":"red","x":0.0000418,"y":-0.0000344},{"s":"BR","c":"red","x":0.00002,"y":-0.0000237},{"s":"BR","c":"red","x":0.000002,"y":-0.0000078}
],
"bInsetPts":[{"x":-0.000077,"y":0,"c":"black","m":"circle"},{"x":0.000076,"y":0,"c":"red","m":"circle"}]
},
"vconcat":[
{
 "width":613,"height":435,
 "resolve":{"scale":{"x":"independent","y":"independent"},"axis":{"x":"independent","y":"independent"}},
 "layer":[
  {"resolve":{"axis":{"x":"independent","y":"independent"}},
   "layer":[
   {"layer":[
   {"data":{"name":"aLines"},"mark":{"type":"line","interpolate":"cardinal","strokeWidth":3,"strokeCap":"round","strokeJoin":"round"},
    "encoding":{
     "x":{"field":"x","type":"quantitative","scale":{"domain":[-1,1],"nice":false,"zero":false},"axis":{"values":[-1,0,1],"labels":false,"title":null}},
     "y":{"field":"y","type":"quantitative","scale":{"domain":[-0.5,0.5],"nice":false,"zero":false},"axis":{"values":[-0.5,0,0.5],"title":"Im(E)","labelExpr":"datum.value == 0 ? '0' : format(datum.value, '.1f')","titleX":-45,"titleY":217.5,"titleBaseline":"middle"}},
     "color":{"field":"c","type":"nominal","scale":{"domain":["purple","green","skyblue","orange","yellow","blue","red","black"],"range":["#9400D3","#009E73","#56B4E9","#E69F00","#F0E442","#0072B2","#E51E10","#000000"]},"legend":null},
     "detail":{"field":"s"},"order":{"value":null}}},
   {"data":{"name":"aCore"},"mark":{"type":"line","interpolate":"cardinal","strokeWidth":3,"strokeCap":"round","strokeJoin":"round"},
    "encoding":{
     "x":{"field":"x","type":"quantitative","scale":{"domain":[-1,1],"nice":false,"zero":false}},
     "y":{"field":"y","type":"quantitative","scale":{"domain":[-0.5,0.5],"nice":false,"zero":false}},
     "color":{"field":"c","type":"nominal","scale":{"domain":["purple","green","skyblue","orange","yellow","blue","red","black"],"range":["#9400D3","#009E73","#56B4E9","#E69F00","#F0E442","#0072B2","#E51E10","#000000"]},"legend":null},
     "detail":{"field":"s"},"order":{"value":null}}},
   {"data":{"name":"aLoops"},"mark":{"type":"line","interpolate":"cardinal-closed","strokeWidth":3},
    "encoding":{
     "x":{"field":"x","type":"quantitative","scale":{"domain":[-1,1],"nice":false,"zero":false}},
     "y":{"field":"y","type":"quantitative","scale":{"domain":[-0.5,0.5],"nice":false,"zero":false}},
     "color":{"field":"c","type":"nominal","scale":{"domain":["purple","green","skyblue","orange","yellow","blue","red","black"],"range":["#9400D3","#009E73","#56B4E9","#E69F00","#F0E442","#0072B2","#E51E10","#000000"]},"legend":null},
     "detail":{"field":"s"},"order":{"value":null}}},
   {"data":{"values":[{"x":-0.123,"x2":0.123,"y":-0.092,"y2":0.099}]},"mark":{"type":"rect","fill":"transparent","stroke":"#000","strokeWidth":2,"strokeDash":[0.1,7.5],"strokeCap":"round"},
    "encoding":{"x":{"field":"x","type":"quantitative","scale":{"domain":[-1,1],"nice":false,"zero":false}},"x2":{"field":"x2"},"y":{"field":"y","type":"quantitative","scale":{"domain":[-0.5,0.5],"nice":false,"zero":false}},"y2":{"field":"y2"}}},
   {"data":{"values":[{"x":-0.3573,"y":0.134},{"x":-0.1256,"y":0.092}]},"mark":{"type":"line","stroke":"#000","strokeWidth":1},
    "encoding":{"x":{"field":"x","type":"quantitative","scale":{"domain":[-1,1],"nice":false,"zero":false}},"y":{"field":"y","type":"quantitative","scale":{"domain":[-0.5,0.5],"nice":false,"zero":false}},"order":{"value":null}}},
   {"data":{"values":[{"x":0.3615,"y":0.134},{"x":0.1246,"y":0.0959}]},"mark":{"type":"line","stroke":"#888","strokeWidth":1,"strokeDash":[1.5,2]},
    "encoding":{"x":{"field":"x","type":"quantitative","scale":{"domain":[-1,1],"nice":false,"zero":false}},"y":{"field":"y","type":"quantitative","scale":{"domain":[-0.5,0.5],"nice":false,"zero":false}},"order":{"value":null}}},
   {"data":{"values":[{"x":-0.1256,"y":0.092}]},"mark":{"type":"point","shape":"triangle-right","angle":14,"filled":true,"color":"#000","size":30,"opacity":1},
    "encoding":{"x":{"field":"x","type":"quantitative","scale":{"domain":[-1,1],"nice":false,"zero":false}},"y":{"field":"y","type":"quantitative","scale":{"domain":[-0.5,0.5],"nice":false,"zero":false}}}},
   {"data":{"values":[{"x":0.1246,"y":0.0959}]},"mark":{"type":"point","shape":"triangle-left","angle":-13,"filled":true,"color":"#000","size":30,"opacity":1},
    "encoding":{"x":{"field":"x","type":"quantitative","scale":{"domain":[-1,1],"nice":false,"zero":false}},"y":{"field":"y","type":"quantitative","scale":{"domain":[-0.5,0.5],"nice":false,"zero":false}}}},
   {"data":{"name":"aBig"},"mark":{"type":"point","filled":true,"size":70,"opacity":1},
    "encoding":{"x":{"field":"x","type":"quantitative","scale":{"domain":[-1,1],"nice":false,"zero":false}},"y":{"field":"y","type":"quantitative","scale":{"domain":[-0.5,0.5],"nice":false,"zero":false}},
     "color":{"field":"c","type":"nominal","scale":{"domain":["purple","green","skyblue","orange","yellow","blue","red","black"],"range":["#9400D3","#009E73","#56B4E9","#E69F00","#F0E442","#0072B2","#E51E10","#000000"]},"legend":null},
     "shape":{"field":"m","type":"nominal","scale":null}}},
   {"data":{"name":"aSmall"},"mark":{"type":"point","filled":true,"size":18,"opacity":1},
    "encoding":{"x":{"field":"x","type":"quantitative","scale":{"domain":[-1,1],"nice":false,"zero":false}},"y":{"field":"y","type":"quantitative","scale":{"domain":[-0.5,0.5],"nice":false,"zero":false}},
     "color":{"field":"c","type":"nominal","scale":{"domain":["purple","green","skyblue","orange","yellow","blue","red","black"],"range":["#9400D3","#009E73","#56B4E9","#E69F00","#F0E442","#0072B2","#E51E10","#000000"]},"legend":null},
     "shape":{"field":"m","type":"nominal","scale":null}}},
   {"data":{"name":"aOpen"},"mark":{"type":"point","filled":false,"size":24,"strokeWidth":1.5,"opacity":1},
    "encoding":{"x":{"field":"x","type":"quantitative","scale":{"domain":[-1,1],"nice":false,"zero":false}},"y":{"field":"y","type":"quantitative","scale":{"domain":[-0.5,0.5],"nice":false,"zero":false}},
     "color":{"field":"c","type":"nominal","scale":{"domain":["purple","green","skyblue","orange","yellow","blue","red","black"],"range":["#9400D3","#009E73","#56B4E9","#E69F00","#F0E442","#0072B2","#E51E10","#000000"]},"legend":null},
     "shape":{"field":"m","type":"nominal","scale":null}}},
   {"data":{"values":[{"x":-0.833,"y":0.395,"t":"(a)"}]},"mark":{"type":"text","font":"DejaVu Serif","fontSize":36,"color":"#000"},
    "encoding":{"x":{"field":"x","type":"quantitative","scale":{"domain":[-1,1],"nice":false,"zero":false}},"y":{"field":"y","type":"quantitative","scale":{"domain":[-0.5,0.5],"nice":false,"zero":false}},"text":{"field":"t"}}}
   ]},
   {"data":{"values":[{"x":0,"y":0}]},"mark":{"type":"point","opacity":0},
    "encoding":{"x":{"field":"x","type":"quantitative","scale":{"domain":[-1,1],"nice":false,"zero":false},"axis":{"orient":"top","values":[0],"labels":false,"title":null}},
     "y":{"field":"y","type":"quantitative","scale":{"domain":[-0.5,0.5],"nice":false,"zero":false},"axis":{"orient":"right","values":[0],"labels":false,"title":null}}}}
  ]},
  {"resolve":{"axis":{"x":"independent","y":"independent"}},
   "layer":[
   {"layer":[
   {"data":{"values":[{"x":-0.1,"x2":0.1,"y":-0.1,"y2":0.1}]},"mark":{"type":"rect","fill":"transparent","stroke":"#222","strokeWidth":1.5},
    "encoding":{
     "x":{"field":"x","type":"quantitative","scale":{"domain":[-0.27885,0.27767],"nice":false,"zero":false},"axis":{"orient":"bottom","offset":-275.6,"values":[-0.1,0,0.1],"title":null,"tickSize":-4,"labelPadding":10.3,"labelExpr":"datum.value == 0 ? '0' : format(datum.value, '.1f')"}},
     "x2":{"field":"x2"},
     "y":{"field":"y","type":"quantitative","scale":{"domain":[-0.4467,0.1005],"nice":false,"zero":false},"axis":{"orient":"left","offset":-197,"values":[-0.1,0,0.1],"title":null,"tickSize":-4,"labelPadding":11,"labelExpr":"datum.value == 0 ? '0' : format(datum.value, '.1f')"}},
     "y2":{"field":"y2"}}},
   {"data":{"name":"aCore"},"mark":{"type":"line","interpolate":"cardinal","strokeWidth":2.2,"strokeCap":"round"},
    "encoding":{
     "x":{"field":"x","type":"quantitative","scale":{"domain":[-0.27885,0.27767],"nice":false,"zero":false}},
     "y":{"field":"y","type":"quantitative","scale":{"domain":[-0.4467,0.1005],"nice":false,"zero":false}},
     "color":{"field":"c","type":"nominal","scale":{"domain":["purple","green","skyblue","orange","yellow","blue","red","black"],"range":["#9400D3","#009E73","#56B4E9","#E69F00","#F0E442","#0072B2","#E51E10","#000000"]},"legend":null},
     "detail":{"field":"s"},"order":{"value":null}}},
   {"data":{"name":"aCorner"},"mark":{"type":"line","strokeWidth":3},
    "encoding":{
     "x":{"field":"x","type":"quantitative","scale":{"domain":[-0.27885,0.27767],"nice":false,"zero":false}},
     "y":{"field":"y","type":"quantitative","scale":{"domain":[-0.4467,0.1005],"nice":false,"zero":false}},
     "color":{"field":"c","type":"nominal","scale":{"domain":["purple","green","skyblue","orange","yellow","blue","red","black"],"range":["#9400D3","#009E73","#56B4E9","#E69F00","#F0E442","#0072B2","#E51E10","#000000"]},"legend":null},
     "detail":{"field":"s"},"order":{"value":null}}},
   {"data":{"name":"aInsetPts"},"mark":{"type":"point","filled":false,"size":20,"strokeWidth":1.2,"opacity":1},
    "encoding":{
     "x":{"field":"x","type":"quantitative","scale":{"domain":[-0.27885,0.27767],"nice":false,"zero":false}},
     "y":{"field":"y","type":"quantitative","scale":{"domain":[-0.4467,0.1005],"nice":false,"zero":false}},
     "color":{"field":"c","type":"nominal","scale":{"domain":["purple","green","skyblue","orange","yellow","blue","red","black"],"range":["#9400D3","#009E73","#56B4E9","#E69F00","#F0E442","#0072B2","#E51E10","#000000"]},"legend":null},
     "shape":{"field":"m","type":"nominal","scale":null}}}
   ]},
   {"data":{"values":[{"x":0,"y":0}]},"mark":{"type":"point","opacity":0},
    "encoding":{"x":{"field":"x","type":"quantitative","scale":{"domain":[-0.27885,0.27767],"nice":false,"zero":false},"axis":{"orient":"top","offset":0,"values":[0],"labels":false,"title":null,"tickSize":-4}},
     "y":{"field":"y","type":"quantitative","scale":{"domain":[-0.4467,0.1005],"nice":false,"zero":false},"axis":{"orient":"right","offset":-195.7,"values":[0],"labels":false,"title":null,"tickSize":-4}}}}
  ]}
 ]
},
{
 "width":613,"height":435,
 "resolve":{"scale":{"x":"independent","y":"independent"},"axis":{"x":"independent","y":"independent"}},
 "layer":[
  {"resolve":{"axis":{"x":"independent","y":"independent"}},
   "layer":[
   {"layer":[
   {"data":{"name":"bLines"},"mark":{"type":"line","interpolate":"cardinal","strokeWidth":1.4,"strokeCap":"round","strokeJoin":"round"},
    "encoding":{
     "x":{"field":"x","type":"quantitative","scale":{"domain":[-1,1],"nice":false,"zero":false},"axis":{"values":[-1,0,1],"title":"Re(E)","labelExpr":"datum.value == 0 ? '0' : format(datum.value, '.0f')","labelAlign":{"condition":{"test":"datum.value > 0.5","value":"right"},"value":"center"},"labelOffset":{"condition":{"test":"datum.value > 0.5","value":3},"value":0}}},
     "y":{"field":"y","type":"quantitative","scale":{"domain":[-0.5,0.5],"nice":false,"zero":false},"axis":{"values":[-0.5,0,0.5],"title":"Im(E)","labelExpr":"datum.value == 0 ? '0' : format(datum.value, '.1f')","titleX":-45,"titleY":217.5,"titleBaseline":"middle"}},
     "color":{"field":"c","type":"nominal","scale":{"domain":["purple","green","skyblue","orange","yellow","blue","red","black"],"range":["#9400D3","#009E73","#56B4E9","#E69F00","#F0E442","#0072B2","#E51E10","#000000"]},"legend":null},
     "detail":{"field":"s"},"order":{"value":null}}},
   {"data":{"name":"bLoops"},"mark":{"type":"line","interpolate":"cardinal-closed","strokeWidth":2},
    "encoding":{
     "x":{"field":"x","type":"quantitative","scale":{"domain":[-1,1],"nice":false,"zero":false}},
     "y":{"field":"y","type":"quantitative","scale":{"domain":[-0.5,0.5],"nice":false,"zero":false}},
     "color":{"field":"c","type":"nominal","scale":{"domain":["purple","green","skyblue","orange","yellow","blue","red","black"],"range":["#9400D3","#009E73","#56B4E9","#E69F00","#F0E442","#0072B2","#E51E10","#000000"]},"legend":null},
     "detail":{"field":"s"},"order":{"value":null}}},
   {"data":{"values":[{"x":-0.045,"x2":0.044,"y":-0.025,"y2":0.031}]},"mark":{"type":"rect","fill":"transparent","stroke":"#555","strokeWidth":1,"strokeDash":[1,3]},
    "encoding":{"x":{"field":"x","type":"quantitative","scale":{"domain":[-1,1],"nice":false,"zero":false}},"x2":{"field":"x2"},"y":{"field":"y","type":"quantitative","scale":{"domain":[-0.5,0.5],"nice":false,"zero":false}},"y2":{"field":"y2"}}},
   {"data":{"values":[{"x":-0.3145,"y":0.1386},{"x":-0.046,"y":0.032}]},"mark":{"type":"line","stroke":"#888","strokeWidth":1,"strokeDash":[1.5,2]},
    "encoding":{"x":{"field":"x","type":"quantitative","scale":{"domain":[-1,1],"nice":false,"zero":false}},"y":{"field":"y","type":"quantitative","scale":{"domain":[-0.5,0.5],"nice":false,"zero":false}},"order":{"value":null}}},
   {"data":{"values":[{"x":0.285,"y":0.1386},{"x":0.042,"y":0.033}]},"mark":{"type":"line","stroke":"#888","strokeWidth":1,"strokeDash":[1.5,2]},
    "encoding":{"x":{"field":"x","type":"quantitative","scale":{"domain":[-1,1],"nice":false,"zero":false}},"y":{"field":"y","type":"quantitative","scale":{"domain":[-0.5,0.5],"nice":false,"zero":false}},"order":{"value":null}}},
   {"data":{"values":[{"x":-0.046,"y":0.032}]},"mark":{"type":"point","shape":"triangle-right","angle":29,"filled":true,"color":"#000","size":30,"opacity":1},
    "encoding":{"x":{"field":"x","type":"quantitative","scale":{"domain":[-1,1],"nice":false,"zero":false}},"y":{"field":"y","type":"quantitative","scale":{"domain":[-0.5,0.5],"nice":false,"zero":false}}}},
   {"data":{"values":[{"x":0.042,"y":0.033}]},"mark":{"type":"point","shape":"triangle-left","angle":-32,"filled":true,"color":"#000","size":30,"opacity":1},
    "encoding":{"x":{"field":"x","type":"quantitative","scale":{"domain":[-1,1],"nice":false,"zero":false}},"y":{"field":"y","type":"quantitative","scale":{"domain":[-0.5,0.5],"nice":false,"zero":false}}}},
   {"data":{"name":"bFill"},"mark":{"type":"point","filled":true,"size":30,"opacity":1},
    "encoding":{"x":{"field":"x","type":"quantitative","scale":{"domain":[-1,1],"nice":false,"zero":false}},"y":{"field":"y","type":"quantitative","scale":{"domain":[-0.5,0.5],"nice":false,"zero":false}},
     "color":{"field":"c","type":"nominal","scale":{"domain":["purple","green","skyblue","orange","yellow","blue","red","black"],"range":["#9400D3","#009E73","#56B4E9","#E69F00","#F0E442","#0072B2","#E51E10","#000000"]},"legend":null},
     "shape":{"field":"m","type":"nominal","scale":null}}},
   {"data":{"name":"bOpen"},"mark":{"type":"point","filled":false,"size":40,"strokeWidth":1.5,"opacity":1},
    "encoding":{"x":{"field":"x","type":"quantitative","scale":{"domain":[-1,1],"nice":false,"zero":false}},"y":{"field":"y","type":"quantitative","scale":{"domain":[-0.5,0.5],"nice":false,"zero":false}},
     "color":{"field":"c","type":"nominal","scale":{"domain":["purple","green","skyblue","orange","yellow","blue","red","black"],"range":["#9400D3","#009E73","#56B4E9","#E69F00","#F0E442","#0072B2","#E51E10","#000000"]},"legend":null},
     "shape":{"field":"m","type":"nominal","scale":null}}},
   {"data":{"values":[{"x":-0.806,"y":0.389,"t":"(b)"}]},"mark":{"type":"text","font":"DejaVu Serif","fontSize":36,"color":"#000"},
    "encoding":{"x":{"field":"x","type":"quantitative","scale":{"domain":[-1,1],"nice":false,"zero":false}},"y":{"field":"y","type":"quantitative","scale":{"domain":[-0.5,0.5],"nice":false,"zero":false}},"text":{"field":"t"}}}
   ]},
   {"data":{"values":[{"x":0,"y":0}]},"mark":{"type":"point","opacity":0},
    "encoding":{"x":{"field":"x","type":"quantitative","scale":{"domain":[-1,1],"nice":false,"zero":false},"axis":{"orient":"top","values":[0],"labels":false,"title":null}},
     "y":{"field":"y","type":"quantitative","scale":{"domain":[-0.5,0.5],"nice":false,"zero":false},"axis":{"orient":"right","values":[0],"labels":false,"title":null}}}}
  ]},
  {"resolve":{"axis":{"x":"independent","y":"independent"}},
   "layer":[
   {"layer":[
   {"data":{"values":[{"x":-0.0002,"x2":0.0002,"y":-0.0001,"y2":0.0001}]},"mark":{"type":"rect","fill":"transparent","stroke":"#222","strokeWidth":1.5},
    "encoding":{
     "x":{"field":"x","type":"quantitative","scale":{"domain":[-0.0006579,0.0006762],"nice":false,"zero":false},"axis":{"orient":"bottom","offset":-277.6,"values":[-0.0002,0,0.0002],"title":null,"tickSize":-4,"labelPadding":11.3,"labelExpr":"datum.value == 0 ? '0' : format(datum.value, '.4f')"}},
     "x2":{"field":"x2"},
     "y":{"field":"y","type":"quantitative","scale":{"domain":[-0.0004589,0.0001035],"nice":false,"zero":false},"axis":{"orient":"left","offset":-210.3,"values":[-0.0001,0,0.0001],"title":null,"tickSize":-4,"labelPadding":14,"labelExpr":"datum.value == 0 ? '0' : format(datum.value, '.4f')"}},
     "y2":{"field":"y2"}}},
   {"data":{"name":"bCore"},"mark":{"type":"line","interpolate":"cardinal","strokeWidth":1.1},
    "encoding":{
     "x":{"field":"x","type":"quantitative","scale":{"domain":[-0.0006579,0.0006762],"nice":false,"zero":false}},
     "y":{"field":"y","type":"quantitative","scale":{"domain":[-0.0004589,0.0001035],"nice":false,"zero":false}},
     "color":{"field":"c","type":"nominal","scale":{"domain":["purple","green","skyblue","orange","yellow","blue","red","black"],"range":["#9400D3","#009E73","#56B4E9","#E69F00","#F0E442","#0072B2","#E51E10","#000000"]},"legend":null},
     "detail":{"field":"s"},"order":{"value":null}}},
   {"data":{"name":"bInsetPts"},"mark":{"type":"point","filled":true,"size":16,"opacity":1},
    "encoding":{
     "x":{"field":"x","type":"quantitative","scale":{"domain":[-0.0006579,0.0006762],"nice":false,"zero":false}},
     "y":{"field":"y","type":"quantitative","scale":{"domain":[-0.0004589,0.0001035],"nice":false,"zero":false}},
     "color":{"field":"c","type":"nominal","scale":{"domain":["purple","green","skyblue","orange","yellow","blue","red","black"],"range":["#9400D3","#009E73","#56B4E9","#E69F00","#F0E442","#0072B2","#E51E10","#000000"]},"legend":null},
     "shape":{"field":"m","type":"nominal","scale":null}}}
   ]},
   {"data":{"values":[{"x":0,"y":0}]},"mark":{"type":"point","opacity":0},
    "encoding":{"x":{"field":"x","type":"quantitative","scale":{"domain":[-0.0006579,0.0006762],"nice":false,"zero":false},"axis":{"orient":"top","offset":-2.7,"values":[0],"labels":false,"title":null,"tickSize":-4}},
     "y":{"field":"y","type":"quantitative","scale":{"domain":[-0.0004589,0.0001035],"nice":false,"zero":false},"axis":{"orient":"right","offset":-219,"values":[0],"labels":false,"title":null,"tickSize":-4}}}}
  ]}
 ]
}
]
}
